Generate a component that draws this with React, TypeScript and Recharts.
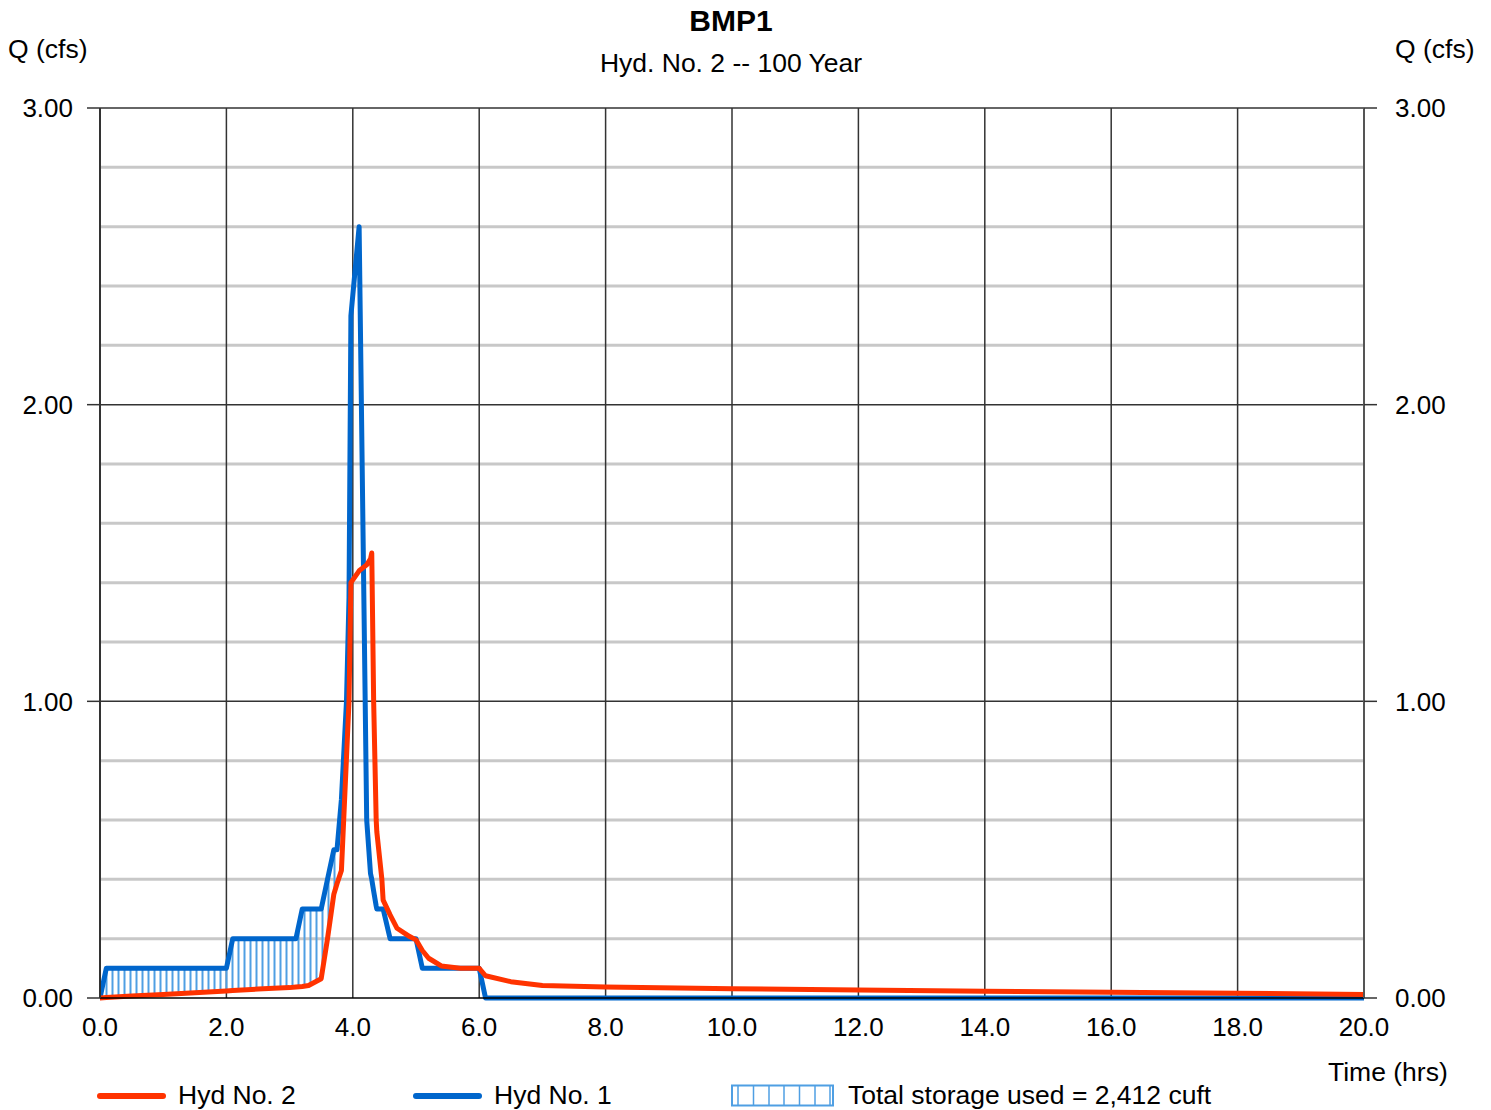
import { ComposedChart, Line, Area, XAxis, YAxis, CartesianGrid } from "recharts";

// hydrograph ordinates (hrs / cfs)
const timeHrs = [
  0, 0.1, 0.5, 1.0, 1.5, 2.0, 2.1, 2.5, 3.0, 3.1, 3.2, 3.3, 3.5, 3.6, 3.7, 3.75,
  3.82, 3.9, 3.94, 3.97, 4.1, 4.22, 4.28, 4.3, 4.33, 4.37, 4.38, 4.46, 4.48, 4.59,
  4.7, 4.9, 5.0, 5.1, 5.2, 5.4, 5.7, 6.0, 6.1, 6.5, 7.0, 8.0, 10.0, 12.0, 14.0,
  16.0, 18.0, 20.0,
];

// Hyd No. 1 (inflow)
const hyd1 = [
  0, 0.1, 0.1, 0.1, 0.1, 0.1, 0.2, 0.2, 0.2, 0.2, 0.3, 0.3, 0.3, 0.4, 0.5, 0.5,
  0.67, 1.0, 1.35, 2.3, 2.6, 0.6, 0.42, 0.4, 0.36, 0.31, 0.3, 0.3, 0.3, 0.2,
  0.2, 0.2, 0.2, 0.1, 0.1, 0.1, 0.1, 0.1, 0, 0, 0, 0, 0, 0, 0,
  0, 0, 0,
];

// Hyd No. 2 (outflow)
const hyd2 = [
  0, 0.002, 0.007, 0.012, 0.018, 0.024, 0.025, 0.03, 0.035, 0.037, 0.039, 0.042, 0.065, 0.2, 0.35, 0.385,
  0.43, 0.81, 1.0, 1.4, 1.44, 1.46, 1.48, 1.5, 1.0, 0.6, 0.56, 0.4, 0.33, 0.28,
  0.235, 0.207, 0.196, 0.16, 0.134, 0.108, 0.1, 0.1, 0.075, 0.055, 0.042, 0.037, 0.031, 0.027, 0.023,
  0.019, 0.016, 0.012,
];

const storageEnd = 3.75;

const xTicks = [0, 2, 4, 6, 8, 10, 12, 14, 16, 18, 20];
const yTicks = [0, 1, 2, 3];
const yMinor = [0.2, 0.4, 0.6, 0.8, 1.2, 1.4, 1.6, 1.8, 2.2, 2.4, 2.6, 2.8];
const xGrid = [2, 4, 6, 8, 10, 12, 14, 16, 18];

const RED = "#ff3300";
const BLUE = "#0066cc";
const HATCH = "#4f9fe3";
const FONT = "'Liberation Sans', Arial, sans-serif";

const rows = timeHrs.map((t, i) => ({
  t,
  hyd1: hyd1[i],
  hyd2: hyd2[i],
  storage: t <= storageEnd ? [hyd2[i], hyd1[i]] : null,
}));

const tickStyle = { fontFamily: FONT, fontSize: 26, fill: "#000" };

export default function App() {
  return (
    <div style={{ position: "absolute", left: 0, top: 0, width: 1491, height: 1110, background: "#fff" }}>
      <svg width={0} height={0} style={{ position: "absolute" }}>
        <defs>
          <pattern id="hatch" patternUnits="userSpaceOnUse" x={105.5} y={0} width={6} height={20}>
            <line x1={1} y1={0} x2={1} y2={20} stroke={HATCH} strokeWidth={2} />
          </pattern>
        </defs>
      </svg>
      <ComposedChart
        width={1491}
        height={1110}
        data={rows}
        margin={{ top: 108, right: 37, bottom: 72, left: 10 }}
      >
        <CartesianGrid
          yAxisId="left"
          horizontalValues={yMinor}
          vertical={false}
          stroke="#c8c8c8"
          strokeWidth={3}
        />
        <CartesianGrid
          yAxisId="left"
          horizontalValues={[1, 2, 3]}
          verticalValues={xGrid}
          stroke="#333"
          strokeWidth={1.5}
        />
        <XAxis
          dataKey="t"
          type="number"
          domain={[0, 20]}
          ticks={xTicks}
          tickFormatter={(v: number) => v.toFixed(1)}
          tickLine={false}
          tickSize={0}
          tickMargin={20}
          height={40}
          axisLine={{ stroke: "#000", strokeWidth: 1.5 }}
          tick={tickStyle}
          allowDataOverflow
        />
        <YAxis
          yAxisId="left"
          domain={[0, 3]}
          ticks={yTicks}
          tickFormatter={(v: number) => v.toFixed(2)}
          width={90}
          tickSize={13}
          tickMargin={14}
          axisLine={{ stroke: "#333", strokeWidth: 2 }}
          tickLine={{ stroke: "#333", strokeWidth: 1.5 }}
          tick={tickStyle}
        />
        <YAxis
          yAxisId="right"
          orientation="right"
          domain={[0, 3]}
          ticks={yTicks}
          tickFormatter={(v: number) => v.toFixed(2)}
          width={90}
          tickSize={13}
          tickMargin={18}
          axisLine={{ stroke: "#555", strokeWidth: 2 }}
          tickLine={{ stroke: "#333", strokeWidth: 1.5 }}
          tick={tickStyle}
        />
        <Area
          yAxisId="left"
          dataKey="storage"
          type="linear"
          stroke="none"
          fill="url(#hatch)"
          fillOpacity={1}
          isAnimationActive={false}
          connectNulls={false}
        />
        <Line
          yAxisId="right"
          dataKey="hyd2"
          type="linear"
          stroke="none"
          dot={false}
          legendType="none"
          isAnimationActive={false}
        />
        <Line
          yAxisId="left"
          dataKey="hyd1"
          type="linear"
          stroke={BLUE}
          strokeWidth={5}
          dot={false}
          strokeLinejoin="round"
          isAnimationActive={false}
        />
        <Line
          yAxisId="left"
          dataKey="hyd2"
          type="linear"
          stroke={RED}
          strokeWidth={5}
          dot={false}
          strokeLinejoin="round"
          strokeLinecap="round"
          isAnimationActive={false}
        />
      </ComposedChart>
      <svg
        width={1491}
        height={1110}
        style={{ position: "absolute", left: 0, top: 0, pointerEvents: "none" }}
        fontFamily={FONT}
      >
        <text x={731} y={31} textAnchor="middle" fontSize={30} fontWeight="bold">BMP1</text>
        <text x={731} y={72} textAnchor="middle" fontSize={26.5}>Hyd. No. 2 -- 100 Year</text>
        <text x={8} y={58} fontSize={26.5}>Q (cfs)</text>
        <text x={1395} y={58} fontSize={26.5}>Q (cfs)</text>
        <text x={1328} y={1081} fontSize={26.5}>Time (hrs)</text>

        <line x1={100} y1={1096} x2={163} y2={1096} stroke={RED} strokeWidth={6} strokeLinecap="round" />
        <text x={178} y={1104} fontSize={26.5}>Hyd No. 2</text>
        <line x1={416} y1={1096} x2={479} y2={1096} stroke={BLUE} strokeWidth={6} strokeLinecap="round" />
        <text x={494} y={1104} fontSize={26.5}>Hyd No. 1</text>
        <rect x={732} y={1085.5} width={101} height={20} fill="#fff" stroke={HATCH} strokeWidth={2} />
        {[738, 753.5, 769, 784, 799.5, 815, 830].map((x) => (
          <line key={x} x1={x} y1={1085.5} x2={x} y2={1105.5} stroke={HATCH} strokeWidth={1.5} />
        ))}
        <text x={848} y={1104} fontSize={26.5}>Total storage used = 2,412 cuft</text>
      </svg>
    </div>
  );
}
